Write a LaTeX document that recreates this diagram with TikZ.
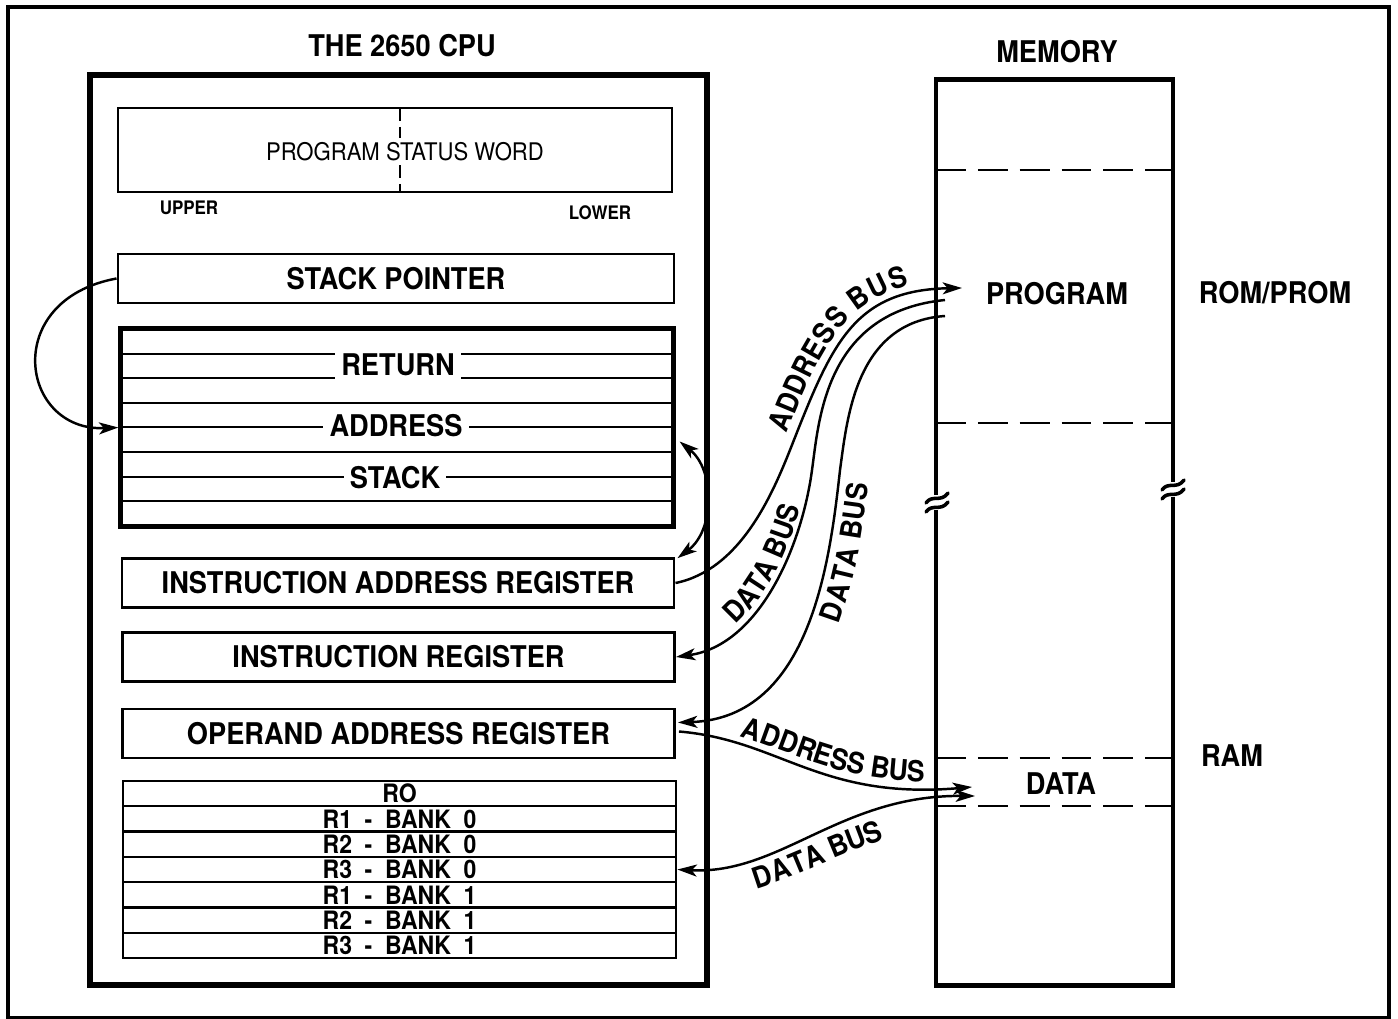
\documentclass[tikz,border=0pt]{standalone}
\usepackage{fontspec}
\setmainfont[FakeStretch=0.91]{TeX Gyre Heros}
\usetikzlibrary{arrows.meta,calc,decorations.text}

\newcommand\cpulbl{\bfseries\fontsize{8.5}{10}\selectfont}
\newcommand\buslbl{\bfseries\fontsize{8.3}{10}\selectfont}
\newcommand\pswlbl{\fontsize{6.9}{8}\selectfont}
\newcommand\tinylbl{\bfseries\fontsize{5.3}{6}\selectfont}
\newcommand\banklbl{\bfseries\fontsize{7.2}{8}\selectfont}
\newcommand\rbank[2]{R#1\enspace-\enspace BANK\enspace #2}

\tikzset{
  reg/.style={draw, line width=0.75pt, minimum width=5.52cm, minimum height=0.49cm, inner sep=0pt, font=\cpulbl},
  bankrow/.style={draw, line width=0.7pt, minimum width=5.53cm, minimum height=0.253cm, inner sep=0pt, font=\banklbl},
  stacklbl/.style={fill=white, inner xsep=1.8pt, inner ysep=1pt, font=\cpulbl},
  bus/.style={line width=0.7pt},
  onearrow/.style={bus, -{Stealth[length=5.5pt,width=3.4pt,inset=1.4pt]}},
  twoarrow/.style={bus, {Stealth[length=5.5pt,width=3.4pt,inset=1.4pt]}-{Stealth[length=5.5pt,width=3.4pt,inset=1.4pt]}},
  memdash/.style={line width=0.8pt, dash pattern=on 8.5pt off 3.4pt},
  brk/.style={line width=1pt, line cap=round},
  buslabel/.style n args={3}{decorate, decoration={text along path, text={|\buslbl|#1}, text align={left, left indent=#2}, raise=#3}}
}

\begin{document}
\begin{tikzpicture}[x=0.01cm, y=-0.01cm]
  \path[use as bounding box, fill=white] (0,0) rectangle (1398,1019);
  % marco
  \draw[line width=0.9pt] (8,7) rectangle (1389,1018);

  % CPU
  \node[font=\cpulbl] (cputitle) at (402,46) {THE 2650 CPU};
  \draw[line width=1.5pt] (90,75) rectangle (707,985);
  % palabra de estado
  \node[draw, line width=0.75pt, minimum width=5.54cm, minimum height=0.84cm] (psw) at (395,150) {};
  \draw[line width=0.75pt, dash pattern=on 3.6pt off 1.8pt] (400,108) -- (400,192);
  \node[fill=white, inner xsep=1pt, inner ysep=1.2pt, font=\pswlbl] (pswtxt) at (405,152) {PROGRAM STATUS WORD};
  \node[font=\tinylbl] (upper) at (189,208) {UPPER};
  \node[font=\tinylbl] (lower) at (600,213) {LOWER};

  \node[reg, minimum width=5.56cm] (sp) at (396,278.5) {STACK POINTER};

  % pila de retorno
  \node[draw, line width=1.4pt, minimum width=5.52cm, minimum height=1.97cm] (ras) at (397,427.5) {};
  \foreach \k in {1,...,7}
    \draw[line width=0.6pt] (121,{329+24.6*\k}) -- (673,{329+24.6*\k});
  \node[stacklbl] (ret) at (398,365) {RETURN};
  \node[stacklbl] (addr) at (396,426) {ADDRESS};
  \node[stacklbl] (stk) at (395,478) {STACK};

  % registros
  \node[reg] (iar) at (398,583) {INSTRUCTION ADDRESS REGISTER};
  \node[reg] (ir) at (398.5,657) {INSTRUCTION REGISTER};
  \node[reg] (oar) at (398.5,733.5) {OPERAND ADDRESS REGISTER};
  \foreach \lab [count=\i from 0] in {RO, \rbank{1}{0}, \rbank{2}{0}, \rbank{3}{0}, \rbank{1}{1}, \rbank{2}{1}, \rbank{3}{1}}
    \node[bankrow] (r\i) at (399.5,{793.6+25.3*\i}) {\lab};

  % memoria
  \node[font=\cpulbl] (memtitle) at (1057,52) {MEMORY};
  \node[draw, line width=1.3pt, minimum width=2.37cm, minimum height=9.05cm] (mem) at (1054.5,532.5) {};
  \foreach \y in {170,423,758,806}
    \draw[memdash] (936,\y) -- (1173,\y);
  \node[font=\cpulbl] (prog) at (1057,294) {PROGRAM};
  \node[font=\cpulbl] (rom) at (1275,293) {ROM/PROM};
  \node[font=\cpulbl] (ram) at (1232,756) {RAM};
  \node[font=\cpulbl] (data) at (1061,784) {DATA};
  % cortes
  \fill[white] (926,495) rectangle (948,510);
  \draw[brk] (926,503) .. controls (932,494) and (941,503) .. (948,493);
  \draw[brk] (926,512) .. controls (932,503) and (941,512) .. (948,502);
  \fill[white] (1162,482) rectangle (1184,497);
  \draw[brk] (1162,490) .. controls (1168,481) and (1177,490) .. (1184,480);
  \draw[brk] (1162,499) .. controls (1168,490) and (1177,499) .. (1184,489);

  % buses
  \coordinate (paddr) at (962,288);
  \coordinate (pdata1) at (945,300);
  \coordinate (pdata2) at (945,316);
  \coordinate (daddr) at (972,787);
  \coordinate (ddata) at (975,796);

  \draw[onearrow] (sp.west) .. controls (0,300) and (20,432) .. (ras.west);
  \draw[twoarrow] ($(ras.east)+(4,14)$) .. controls (715,470) and (715,530) .. ($(iar.north east)+(2,1)$);

  \draw[onearrow] (iar.east) .. controls (740,570) and (772,495) .. (790,450) .. controls (831,346) and (852,290) .. (paddr);
  \draw[onearrow] (pdata1) .. controls (825,312) and (819,420) .. (812,470) .. controls (802,545) and (760,645) .. (ir.east);
  \draw[onearrow] (pdata2) .. controls (855,322) and (847,420) .. (840,470) .. controls (830,560) and (811,718) .. ($(oar.east)+(2,-11)$);
  \draw[onearrow] ($(oar.east)+(3,-2)$) .. controls (780,740) and (820,800) .. (daddr);
  \draw[twoarrow] (r3.east) .. controls (780,875) and (840,795) .. (ddata);

  % rotulos de los buses
  \path[buslabel={ADDRESS BUS}{4pt}{2.5pt}] (790,450) .. controls (831,346) and (852,290) .. (paddr);
  \path[buslabel={DATA BUS}{20pt}{1.2pt}] (ir.east) .. controls (760,645) and (802,545) .. (812,470);
  \path[buslabel={DATA BUS}{52pt}{-8.4pt}] ($(oar.east)+(2,-11)$) .. controls (811,718) and (830,560) .. (840,470);
  \path[buslabel={ADDRESS BUS}{17pt}{2pt}] ($(oar.east)+(3,-2)$) .. controls (780,740) and (820,800) .. (daddr);
  \path[buslabel={DATA BUS}{20pt}{-8.6pt}] (r3.east) .. controls (780,875) and (840,795) .. (ddata);
\end{tikzpicture}
\end{document}
